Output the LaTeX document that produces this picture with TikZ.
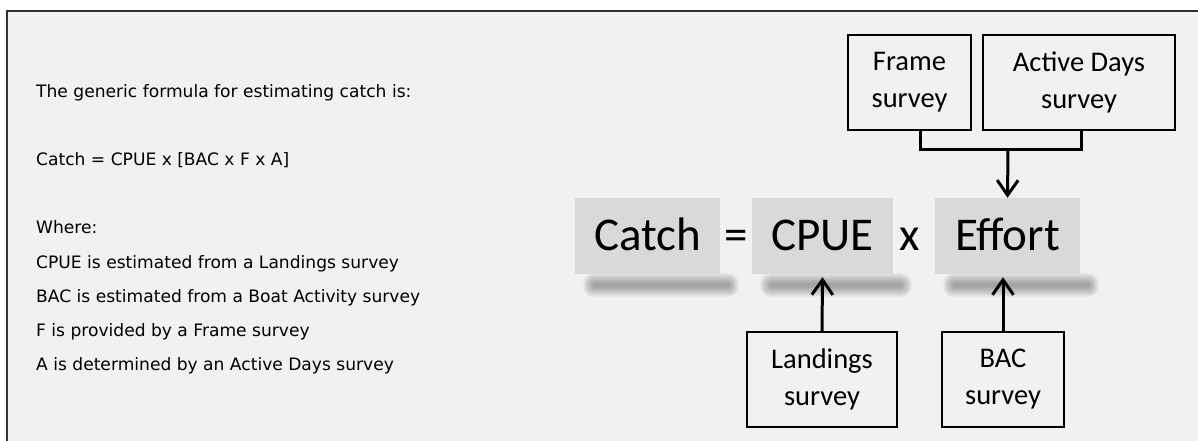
\documentclass[tikz,border=0pt]{standalone}
\usepackage{fontspec}
\setmainfont{DejaVu Sans}
\newfontfamily\calibrifont{Carlito}
\usetikzlibrary{arrows.meta,backgrounds}
\definecolor{panelgray}{HTML}{F1F1F1}
\definecolor{termgray}{HTML}{D9D9D9}
\definecolor{framedark}{HTML}{333333}
\tikzset{
  bodytext/.style={anchor=base west, inner sep=0pt, font=\fontsize{17.1}{20}\selectfont},
  term/.style={fill=termgray, inner sep=0pt, minimum height=76pt,
    text height=29.6pt, text depth=0pt, font=\calibrifont\fontsize{47}{56}\selectfont},
  termshadow/.style={fill=black, opacity=0.03, rounded corners=#1},
  symb/.style={inner sep=0pt, text height=29.6pt, text depth=0pt,
    font=\calibrifont\fontsize{47}{56}\selectfont},
  survey/.style={draw, line width=2pt, inner sep=0pt, minimum height=95pt, align=center,
    font=\calibrifont\fontsize{28.5}{37}\selectfont},
  feed/.style={line width=3pt, -{Straight Barb[length=15pt,width=21pt]}}
}

\begin{document}
\begin{tikzpicture}[x=1pt, y=-1pt]
  \useasboundingbox (0,0) rectangle (1198,441);

  % explanation on the left
  \foreach \ypos/\txt [count=\i] in {
      97.5/{The generic formula for estimating catch is:},
      165.5/{Catch = CPUE x [BAC x F x A]},
      233.5/{Where:},
      268.5/{CPUE is estimated from a Landings survey},
      302.5/{BAC is estimated from a Boat Activity survey},
      336.5/{F is provided by a Frame survey},
      370.5/{A is determined by an Active Days survey}} {
    \node[bodytext] (line\i) at (36,\ypos) {\txt};
  }

  % formula
  \node[term, minimum width=145pt] (catch) at (647.5,236) {Catch};
  \node[symb] (equals) at (736,236) {=};
  \node[term, minimum width=141pt] (cpue) at (822.5,236) {CPUE};
  \node[symb] (times) at (910,236) {x};
  \node[term, minimum width=145pt] (effort) at (1007.5,236) {Effort};

  % surveys
  \node[survey, minimum width=123pt] (frame) at (909.5,82.5) {Frame\\survey};
  \node[survey, minimum width=192pt] (active) at (1079,82.5) {Active Days\\survey};
  \node[survey, minimum width=150pt] (landings) at (822,379.5) {Landings\\survey};
  \node[survey, minimum width=122pt] (bac) at (1003,379.5) {BAC\\survey};

  % connectors
  \coordinate (join) at (1008,149);
  \draw[line width=3pt] ([xshift=11pt]frame.south) |- (join) -| ([xshift=2pt]active.south);
  \draw[feed] (join) -- (effort.north);
  \draw[feed] (landings.north) -- ([yshift=-3pt]cpue.south);
  \draw[feed] (bac.north) -- ([yshift=-3pt]bac.north |- effort.south);

  % panel and soft shadows behind everything
  \begin{scope}[on background layer]
    \fill[panelgray] (7,11) rectangle (1198,441);
    \draw[framedark, line width=2.5pt] (7,441) -- (7,11) -- (1198,11);
    \foreach \t in {catch, cpue, effort} {
      \foreach \k in {1,...,11} {
        \fill[termshadow=\k pt]
          ([xshift={(19-\k)*1pt}, yshift={(-10+\k)*1pt}]\t.south west)
          rectangle ([xshift={(8+\k)*1pt}, yshift={(-12-\k)*1pt}]\t.south east);
      }
    }
  \end{scope}
\end{tikzpicture}
\end{document}
